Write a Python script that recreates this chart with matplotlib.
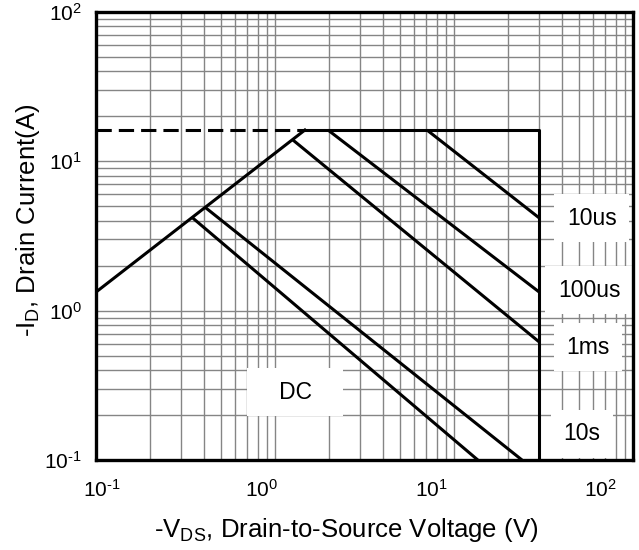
import matplotlib
matplotlib.use('Agg')
import matplotlib.pyplot as plt
from matplotlib.ticker import LogLocator, NullFormatter, FixedLocator

plt.rcParams['font.family'] = ['Liberation Sans', 'DejaVu Sans']
plt.rcParams['mathtext.fontset'] = 'custom'
plt.rcParams['mathtext.rm'] = 'Liberation Sans'
plt.rcParams['mathtext.it'] = 'Liberation Sans:italic'
plt.rcParams['mathtext.default'] = 'regular'

# R_DS(on) limit and package limits
rds_v = [0.1, 1.47]
rds_i = [1.33, 16.2]
id_max = 16.2
vds_max = 30.0

# pulse-width lines (start, end) in V and A
pulse_labels = ['10us', '100us', '1ms', '10s', 'DC']
pulse_v = [[7.07, 30.0], [1.98, 30.0], [1.26, 30.0], [0.406, 24.0], [0.348, 13.6]]
pulse_i = [[16.2, 4.17], [16.2, 1.33], [13.9, 0.616], [4.94, 0.1], [4.17, 0.1]]

# where the labels sit
label_v = [59, 57, 56, 52, 1.3]
label_i = [4.17, 1.37, 0.57, 0.15, 0.285]

xtick_labels = ['$10^{\u2010 1}$', '$10^{0}$', '$10^{1}$', '$10^{2}$']
ytick_vals = [0.1, 1, 10, 100]
ytick_labels = ['$10^{\u2010 1}$', '$10^{0}$', '$10^{1}$', '$10^{2}$']

fig = plt.figure(figsize=(6.39, 5.5), dpi=100)
ax = fig.add_axes([0.150, 0.1636, 0.8406, 0.8146])
ax.set_xscale('log')
ax.set_yscale('log')
ax.set_xlim(0.1, 100)
ax.set_ylim(0.1, 100)

ax.xaxis.set_major_locator(LogLocator(base=10))
ax.xaxis.set_minor_locator(LogLocator(base=10, subs=range(2, 10)))
ax.yaxis.set_minor_locator(LogLocator(base=10, subs=range(2, 10)))
ax.xaxis.set_minor_formatter(NullFormatter())
ax.yaxis.set_minor_formatter(NullFormatter())
ax.grid(True, which='both', color='#858585', linewidth=1.0, zorder=0)
ax.set_axisbelow(True)

# limits
ax.plot([rds_v[0], rds_v[1]], [id_max, id_max], color='black', lw=2.2, dashes=(5, 2.3), zorder=3)
ax.plot(rds_v, rds_i, color='black', lw=2.2, zorder=3)
ax.plot([rds_v[1], vds_max, vds_max], [id_max, id_max, 0.1], color='black', lw=2.2, zorder=3)

for v, i in zip(pulse_v, pulse_i):
    ax.plot(v, i, color='black', lw=2.2, solid_capstyle='butt', zorder=3)

for lab, v, i in zip(pulse_labels, label_v, label_i):
    txt = '   DC   ' if lab == 'DC' else lab
    ax.text(v, i, txt, fontsize=16.5, ha='center', va='center', zorder=2,
            bbox=dict(boxstyle='square,pad=0.55', fc='white', ec='none'))

ax.tick_params(which='both', length=0)
ax.set_xticklabels([])
ax.yaxis.set_major_locator(FixedLocator(ytick_vals))
ax.set_yticklabels(ytick_labels, fontsize=15)
ax.tick_params(axis='y', pad=10)

# x tick labels sit a bit left of the decade lines in the original
xlab_pos = [0.011, 0.309, 0.624, 0.940]
for p, t in zip(xlab_pos, xtick_labels):
    ax.text(p, -0.067, t, transform=ax.transAxes, ha='center', va='center', fontsize=15)

for s in ax.spines.values():
    s.set_linewidth(2.4)
    s.set_zorder(4)

ax.text(0.466, -0.156, '-V$_{DS}$, Drain-to-Source Voltage (V)', transform=ax.transAxes,
        ha='center', va='center', fontsize=18.5)
ax.text(-0.127, 0.536, '-I$_{D}$, Drain Current(A)', transform=ax.transAxes,
        ha='center', va='center', rotation=90, fontsize=18.5)

fig.savefig('out.png', dpi=100)
